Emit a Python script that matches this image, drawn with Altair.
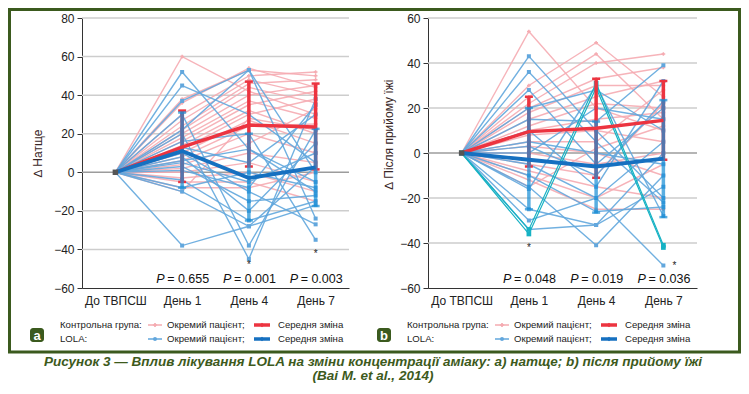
import altair as alt
import pandas as pd

# ---------------- data ----------------
categories = ["До ТВПСШ", "День 1", "День 4", "День 7"]
days = ["День 1", "День 4", "День 7"]

# panel a (натще): individual patients, values at День 1, День 4, День 7 (baseline = 0)
a_control = [
    [60, 42, 30], [38, 53, 50], [36, 54, 44], [30, 50, 52], [27, 48, 40],
    [24, 46, 48], [22, 44, 36], [20, 40, 45], [18, 37, 28], [16, 35, 42],
    [14, 32, 20], [12, 30, 38], [10, 27, 15], [8, 24, 25], [6, 20, 10],
    [4, 15, 33], [2, 10, 5], [0, 5, -5], [-3, 0, -10], [-5, -5, -15],
    [-8, -8, 0], [-10, 28, 22],
]
a_lola = [
    [52, 12, -10], [45, 30, 5], [37, 53, -24], [30, -38, 22], [22, 53, 0],
    [20, -45, 38], [16, 20, -35], [13, 5, 30], [10, -10, -27], [8, -20, 15],
    [6, 12, -5], [5, -5, 10], [3, -15, -12], [1, -8, 35], [-4, -25, -15],
    [-8, 0, -8], [-10, -28, -17], [-38, -28, 3],
]
a_lola_teal = []
a_ctrl_mean = [0, 13, 24.5, 23.5]
a_ctrl_lo = [-5, 3, 1.5]
a_ctrl_hi = [32, 47, 46]
a_lola_mean = [0, 11, -3, 2.5]
a_lola_lo = [-8, -25, -17.5]
a_lola_hi = [31, 20, 22.5]
a_p = ["0.655", "0.001", "0.003"]

# panel b (після прийому їжі)
b_control = [
    [54, 20, 10], [30, 49, 25], [25, 44, 15], [22, 40, 44], [20, 33, 38],
    [18, 30, 30], [15, 25, 32], [12, 22, 20], [10, 15, 18], [8, 10, 5],
    [5, 5, 28], [3, 0, -10], [0, -5, 0], [-5, -10, 22], [-8, -15, -20],
    [-10, -20, -5], [-12, -25, -25], [-15, 2, 12],
]
b_lola = [
    [43, 10, -20], [36, 5, -22], [28, -5, 20], [20, 28, 10], [15, 14, 39],
    [10, -15, 32], [5, 0, -5], [3, -10, 23], [0, 20, 15], [-5, -20, 5],
    [-10, -26, -24], [-15, -41, -10], [-16, 30, -28], [-25, -32, 0],
    [-30, -20, -50], [-34, -32, -15],
]
b_lola_teal = [[-36, 29, -42], [-34, 31, -41]]
b_ctrl_mean = [0, 9.5, 11, 14.5]
b_ctrl_lo = [-6, -11, -3]
b_ctrl_hi = [25, 33, 32]
b_lola_mean = [0, -3, -6, -2.5]
b_lola_lo = [-25, -26.5, -28.5]
b_lola_hi = [20, 14, 23.5]
b_p = ["0.048", "0.019", "0.036"]

# ---------------- styling ----------------
W, H = 733, 378
FONT = "Liberation Sans, Arial, Helvetica, sans-serif"
PINK = "#f5abb1"
LBLUE = "#62a7dd"
TEAL = "#17b2c4"
RED = "#ec3440"
BLUE = "#1670c0"
BLUE_ERR = "#1a8fd6"
GREEN = "#3b5a1e"
GRID = "#cdcdcd"


def patients_df(patients, prefix):
    rows = []
    for i, p in enumerate(patients):
        for c, v in zip(categories, [0] + list(p)):
            rows.append({"pid": f"{prefix}{i}", "cat": c, "v": v})
    return pd.DataFrame(rows, columns=["pid", "cat", "v"])


def panel(cfg):
    x0, x1 = cfg["xr"]
    xscale = alt.Scale(type="point", domain=categories, range=[x0, x1], padding=0.5)
    yscale = alt.Scale(domain=cfg["ydom"], range=[280, 10], nice=False, zero=False)
    xaxis = alt.Axis(orient="bottom", offset=-98, title=None, ticks=False, grid=False,
                     domainColor="#333333", domainWidth=1, labelFont=FONT, labelFontSize=12,
                     labelColor="#222222", labelPadding=7, labelAngle=0)
    yaxis_kw = dict(orient="left", offset=-x0, values=cfg["yticks"], title=cfg["title"],
                    grid=False, domainColor="#333333", domainWidth=1, tickColor="#333333",
                    tickSize=5, labelFont=FONT, labelFontSize=12, labelColor="#222222",
                    labelPadding=3, titleFont=FONT, titleFontSize=12,
                    titleFontWeight="normal", titleColor="#3a2828", titleAngle=-90,
                    titleBaseline="middle", titleX=cfg["titleX"], format="d")
    if cfg.get("titleY") is not None:
        yaxis_kw["titleY"] = cfg["titleY"]
    yaxis = alt.Axis(**yaxis_kw)

    def X():
        return alt.X("cat:N", scale=xscale, axis=xaxis, sort=categories)

    def Y(f="v"):
        return alt.Y(f"{f}:Q", scale=yscale, axis=yaxis)

    layers = []
    gvals = [t for t in cfg["yticks"] if t > cfg["ydom"][0]]
    grid = alt.Chart(pd.DataFrame({"v": [g for g in gvals if g != 0]})).mark_rule(
        color=GRID, strokeWidth=1.5).encode(y=Y(), x=alt.value(x0), x2=alt.value(x1))
    zero = alt.Chart(pd.DataFrame({"v": [0]})).mark_rule(
        color="#9c9c9c", strokeWidth=1.5).encode(y=Y(), x=alt.value(x0), x2=alt.value(x1))
    layers += [grid, zero]

    ctrl = alt.Chart(patients_df(cfg["control"], "c")).mark_line(
        color=PINK, strokeWidth=1.4, opacity=0.9,
        point=alt.OverlayMarkDef(shape="cross", size=14, filled=True, color=PINK)
    ).encode(x=X(), y=Y(), detail="pid:N")
    lola = alt.Chart(patients_df(cfg["lola"], "l")).mark_line(
        color=LBLUE, strokeWidth=1.4, opacity=0.9,
        point=alt.OverlayMarkDef(shape="square", size=16, filled=True, color=LBLUE)
    ).encode(x=X(), y=Y(), detail="pid:N")
    layers += [ctrl, lola]
    if cfg["teal"]:
        teal = alt.Chart(patients_df(cfg["teal"], "t")).mark_line(
            color=TEAL, strokeWidth=1.2,
            point=alt.OverlayMarkDef(shape="square", size=22, filled=True, color=TEAL)
        ).encode(x=X(), y=Y(), detail="pid:N")
        layers.append(teal)

    def errbars(lo, hi, color, width, opacity):
        df = pd.DataFrame({"cat": days, "lo": lo, "hi": hi})
        base = alt.Chart(df)
        bar = base.mark_rule(color=color, strokeWidth=width, opacity=opacity).encode(
            x=X(), y=Y("lo"), y2="hi:Q")
        cap_lo = base.mark_tick(color=color, size=8, thickness=2.5, opacity=opacity).encode(
            x=X(), y=Y("lo"))
        cap_hi = base.mark_tick(color=color, size=8, thickness=2.5, opacity=opacity).encode(
            x=X(), y=Y("hi"))
        return [bar, cap_lo, cap_hi]

    layers += errbars(cfg["ctrl_lo"], cfg["ctrl_hi"], RED, 3.5, 1)
    layers += errbars(cfg["lola_lo"], cfg["lola_hi"], BLUE_ERR, 3.5, 0.72)

    cm = alt.Chart(pd.DataFrame({"cat": categories, "v": cfg["ctrl_mean"]})).mark_line(
        color=RED, strokeWidth=3.5).encode(x=X(), y=Y())
    lm = alt.Chart(pd.DataFrame({"cat": categories, "v": cfg["lola_mean"]})).mark_line(
        color=BLUE, strokeWidth=3.8).encode(x=X(), y=Y())
    base_pt = alt.Chart(pd.DataFrame({"cat": [categories[0]], "v": [0]})).mark_point(
        shape="square", size=30, filled=True, color="#555555", opacity=1).encode(x=X(), y=Y())
    layers += [cm, lm, base_pt]

    pdf = pd.DataFrame({"cat": days, "p": cfg["p"], "eq": ["= " + s for s in cfg["p"]]})
    p_it = alt.Chart(pdf).mark_text(font=FONT, fontSize=12.5, fontStyle="italic", align="left",
                                    baseline="alphabetic", dx=-26, color="#111111").encode(
        x=X(), y=alt.value(275), text=alt.value("P"))
    p_eq = alt.Chart(pdf).mark_text(font=FONT, fontSize=12.5, align="left",
                                    baseline="alphabetic", dx=-15, color="#111111").encode(
        x=X(), y=alt.value(275), text="eq:N")
    layers += [p_it, p_eq]

    for cat, ypx, dx in cfg["stars"]:
        st = alt.Chart(pd.DataFrame({"cat": [cat]})).mark_text(
            text="*", font=FONT, fontSize=10, color="#222222", dx=dx, baseline="middle"
        ).encode(x=X(), y=alt.value(ypx))
        layers.append(st)

    return alt.layer(*layers)


panel_a = panel(dict(xr=[74, 341], ydom=[-60, 80], yticks=[-60, -40, -20, 0, 20, 40, 60, 80],
                     title="∆ Натще", titleX=-45, titleY=None,
                     control=a_control, lola=a_lola, teal=a_lola_teal,
                     ctrl_mean=a_ctrl_mean, ctrl_lo=a_ctrl_lo, ctrl_hi=a_ctrl_hi,
                     lola_mean=a_lola_mean, lola_lo=a_lola_lo, lola_hi=a_lola_hi,
                     p=a_p, stars=[("День 4", 257, 0), ("День 7", 246, 0)]))
panel_b = panel(dict(xr=[420, 689], ydom=[-60, 60], yticks=[-60, -40, -20, 0, 20, 40, 60],
                     title="∆ Після прийому їжі", titleX=-40, titleY=126,
                     control=b_control, lola=b_lola, teal=b_lola_teal,
                     ctrl_mean=b_ctrl_mean, ctrl_lo=b_ctrl_lo, ctrl_hi=b_ctrl_hi,
                     lola_mean=b_lola_mean, lola_lo=b_lola_lo, lola_hi=b_lola_hi,
                     p=b_p, stars=[("День 1", 240, 0), ("День 7", 258, 11)]))


# ---------------- decorations ----------------
ONE = pd.DataFrame({"k": [0]})


def txt(s, x, y, **kw):
    return alt.Chart(pd.DataFrame({"t": [s]})).mark_text(**kw).encode(
        x=alt.value(x), y=alt.value(y), text="t:N")


def hline(xa, xb, y, color, w):
    return alt.Chart(ONE).mark_rule(color=color, strokeWidth=w).encode(
        x=alt.value(xa), x2=alt.value(xb), y=alt.value(y))


def marker(x, y, shape, size, color):
    return alt.Chart(ONE).mark_point(shape=shape, size=size, filled=True, color=color,
                                     opacity=1).encode(x=alt.value(x), y=alt.value(y))


deco = []
frame = alt.Chart(ONE).mark_rect(fillOpacity=0, stroke=GREEN, strokeWidth=3).encode(
    x=alt.value(1.5), x2=alt.value(731.5), y=alt.value(1.5), y2=alt.value(344))
deco.append(frame)

for ox, badge in [(0, "a"), (347, "b")]:
    deco.append(alt.Chart(ONE).mark_rect(fill=GREEN, cornerRadius=3).encode(
        x=alt.value(22 + ox), x2=alt.value(36 + ox), y=alt.value(320), y2=alt.value(334)))
    deco.append(txt(badge, 29 + ox, 327.5, font=FONT, fontSize=13, fontWeight="bold",
                    color="white", align="center", baseline="middle"))
    lkw = dict(font=FONT, fontSize=9.6, color="#222222", align="left", baseline="middle")
    deco.append(txt("Контрольна група:", 52 + ox, 317, **lkw))
    deco.append(txt("LOLA:", 52 + ox, 331, **lkw))
    deco.append(hline(140 + ox, 154 + ox, 317, PINK, 1.5))
    deco.append(marker(147 + ox, 317, "cross", 18, PINK))
    deco.append(hline(140 + ox, 154 + ox, 331, LBLUE, 1.5))
    deco.append(marker(147 + ox, 331, "circle", 16, LBLUE))
    deco.append(txt("Окремий пацієнт;", 159 + ox, 317, **lkw))
    deco.append(txt("Окремий пацієнт;", 159 + ox, 331, **lkw))
    deco.append(hline(246 + ox, 262 + ox, 317, RED, 3.5))
    deco.append(marker(254 + ox, 317, "diamond", 22, RED))
    deco.append(hline(246 + ox, 262 + ox, 331, BLUE, 3.5))
    deco.append(marker(254 + ox, 331, "diamond", 22, BLUE))
    deco.append(txt("Середня зміна", 270 + ox, 317, **lkw))
    deco.append(txt("Середня зміна", 270 + ox, 331, **lkw))

ckw = dict(font=FONT, fontSize=13.5, fontWeight="bold", fontStyle="italic", color="#3d5a1c",
           align="center", baseline="alphabetic")
deco.append(txt("Рисунок 3 — Вплив лікування LOLA на зміни концентрації аміаку: а) натще; b) після прийому їжі",
                365, 358, **ckw))
deco.append(txt("(Bai M. et al., 2014)", 365, 372, **ckw))

chart = alt.layer(panel_a, panel_b, *deco).resolve_scale(
    x="independent", y="independent"
).properties(
    width=W, height=H, padding=0, autosize=alt.AutoSizeParams(type="none")
).configure_view(stroke=None)

chart.save("out.html", embed_options={"renderer": "svg", "actions": False})
